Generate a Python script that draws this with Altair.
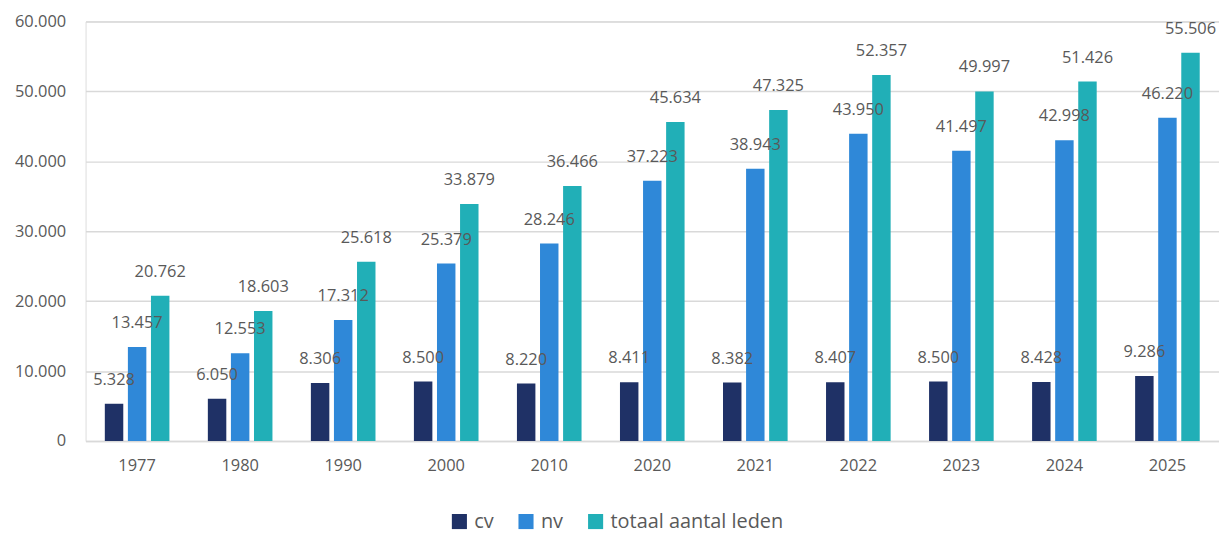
import altair as alt
import pandas as pd

years = ["1977", "1980", "1990", "2000", "2010", "2020", "2021", "2022", "2023", "2024", "2025"]
cv = [5328, 6050, 8306, 8500, 8220, 8411, 8382, 8407, 8500, 8428, 9286]
nv = [13457, 12553, 17312, 25379, 28246, 37223, 38943, 43950, 41497, 42998, 46220]
totaal = [20762, 18603, 25618, 33879, 36466, 45634, 47325, 52357, 49997, 51426, 55506]
series = ["cv", "nv", "totaal aantal leden"]
colors = ["#1F3166", "#2F88D8", "#21AFB7"]

rows = []
for i, y in enumerate(years):
    for s, vals in zip(series, [cv, nv, totaal]):
        v = vals[i]
        rows.append({"jaar": y, "reeks": s, "waarde": v,
                     "label": f"{v:,}".replace(",", ".")})
df = pd.DataFrame(rows)

FONT = "Open Sans"
GRAY = "#595959"

x = alt.X("jaar:N", sort=years, title=None,
          scale=alt.Scale(paddingInner=0.373, paddingOuter=0.187),
          axis=alt.Axis(labelAngle=0, labelFontSize=16.5, labelColor=GRAY, labelFont=FONT,
                        ticks=False, domainColor="#D9D9D9", domainWidth=1.5,
                        labelPadding=17, grid=False))
xo = alt.XOffset("reeks:N", sort=series,
                 scale=alt.Scale(paddingInner=0.2, paddingOuter=0))
y = alt.Y("waarde:Q", title=None,
          scale=alt.Scale(domain=[0, 60000], nice=False),
          axis=alt.Axis(values=[0, 10000, 20000, 30000, 40000, 50000, 60000],
                        labelExpr="replace(format(datum.value, ','), ',', '.')",
                        labelFontSize=16.5, labelColor=GRAY, labelFont=FONT,
                        ticks=False, domain=False, gridColor="#D9D9D9", gridWidth=1.5,
                        labelPadding=20))
color = alt.Color("reeks:N", sort=series, title=None,
                  scale=alt.Scale(domain=series, range=colors),
                  legend=alt.Legend(orient="none", direction="horizontal",
                                    legendX=366, legendY=493,
                                    symbolType="square", symbolSize=230,
                                    symbolStrokeWidth=0, symbolOpacity=1,
                                    labelFontSize=20, labelFont=FONT, labelColor=GRAY,
                                    labelLimit=400,
                                    labelOffset=5, columnPadding=22))

bars = alt.Chart(df).mark_bar().encode(x=x, xOffset=xo, y=y, color=color)
labels = alt.Chart(df).mark_text(fontSize=16.5, font=FONT, color=GRAY,
                                 baseline="middle", dy=-24).encode(
    x=x, xOffset=xo, y=y, text="label:N")

chart = (bars + labels).properties(
    width=1140, height=422,
    autosize=alt.AutoSizeParams(type="none"),
    padding={"left": 78, "top": 12, "right": 0, "bottom": 91},
).configure_view(stroke=None).configure(background="white")

chart.save("out.html", embed_options={"renderer": "svg", "actions": False})
